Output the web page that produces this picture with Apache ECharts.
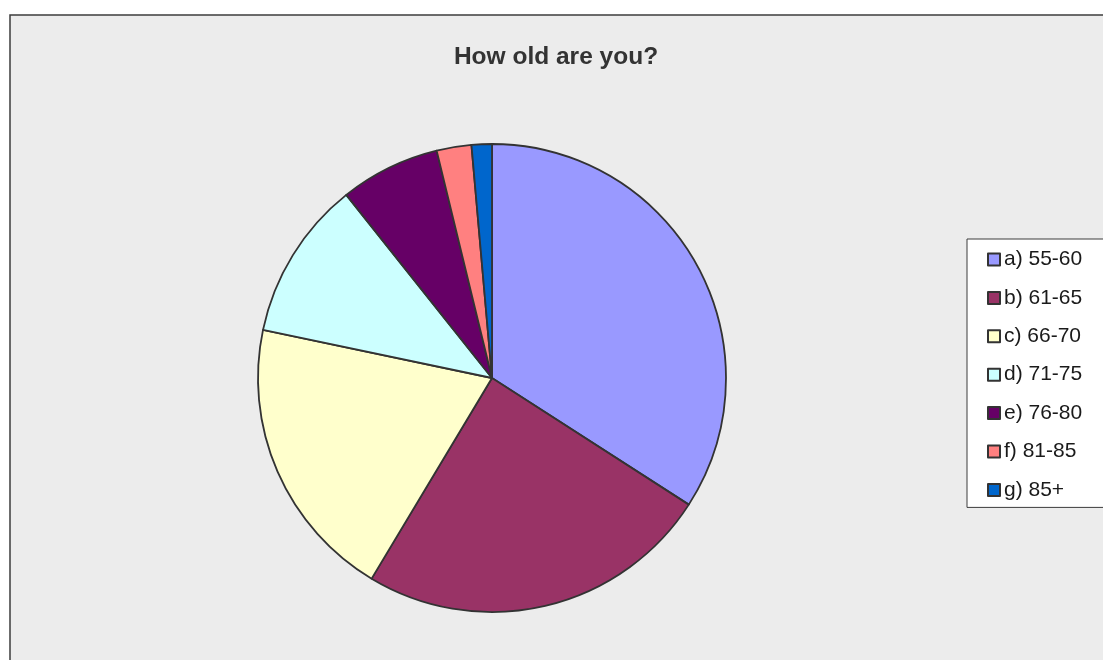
<!DOCTYPE html>
<html>
<head>
<meta charset="utf-8">
<style>
  html, body { margin: 0; padding: 0; background: #ffffff; }
  #chart { width: 1103px; height: 660px; }
</style>
<script src="https://cdn.jsdelivr.net/npm/echarts@6/dist/echarts.min.js"></script>
</head>
<body>
<div id="chart"></div>
<script>
// Age groups of respondents and their share (%)
const categories = ['a) 55-60', 'b) 61-65', 'c) 66-70', 'd) 71-75', 'e) 76-80', 'f) 81-85', 'g) 85+'];
const shares = [34.1, 24.5, 19.7, 11.0, 6.9, 2.4, 1.4];
const colors = ['#9999FF', '#993366', '#FFFFCC', '#CCFFFF', '#660066', '#FF8080', '#0066CC'];
const chartTitle = 'How old are you?';

const chart = echarts.init(document.getElementById('chart'), null, { renderer: 'canvas' });

chart.setOption({
  animation: false,
  backgroundColor: '#ffffff',
  color: colors,
  graphic: [
    {
      type: 'rect',
      z: -10,
      silent: true,
      shape: { x: 10, y: 15, width: 1200, height: 700 },
      style: { fill: '#ececec', stroke: '#3c3c3c', lineWidth: 1.5 }
    },
    {
      type: 'text',
      silent: true,
      x: 556,
      y: 57,
      style: {
        text: chartTitle,
        fill: '#333333',
        font: 'bold 24.5px "Liberation Sans", Arial, sans-serif',
        textAlign: 'center',
        textVerticalAlign: 'middle'
      }
    }
  ],
  legend: {
    orient: 'vertical',
    left: 967,
    top: 239,
    padding: [10, 40, 7, 20],
    backgroundColor: '#ffffff',
    borderColor: '#3c3c3c',
    borderWidth: 1,
    borderRadius: 0,
    icon: 'rect',
    itemWidth: 12,
    itemHeight: 12,
    itemGap: 17.4,
    selectedMode: false,
    data: categories,
    textStyle: {
      fontFamily: '"Liberation Sans", Arial, sans-serif',
      fontSize: 21,
      lineHeight: 21,
      color: '#1a1a1a',
      padding: [0, 0, 0, -1]
    }
  },
  series: [
    {
      type: 'pie',
      center: [492, 378],
      radius: 234,
      startAngle: 90,
      clockwise: true,
      silent: true,
      label: { show: false },
      labelLine: { show: false },
      emphasis: { disabled: true },
      itemStyle: { borderColor: '#333333', borderWidth: 1.8 },
      data: categories.map((name, i) => ({ name: name, value: shares[i] }))
    }
  ]
});
</script>
</body>
</html>
